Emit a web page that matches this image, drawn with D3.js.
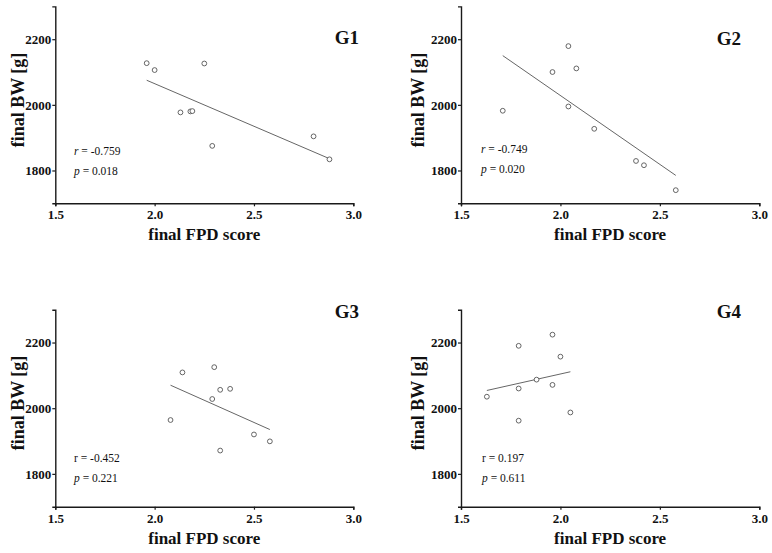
<!DOCTYPE html>
<html>
<head>
<meta charset="utf-8">
<script src="https://cdn.jsdelivr.net/npm/d3@7"></script>
<style>
  html, body { margin: 0; padding: 0; background: #fff; }
  svg { display: block; }
  text { font-family: "Liberation Serif", "Times New Roman", serif; fill: #111; }
</style>
</head>
<body>
<svg id="chart" width="772" height="553"></svg>
<script>
// ---------- data ----------
const groups = ["G1", "G2", "G3", "G4"];
const xTicks = [1.5, 2.0, 2.5, 3.0];
const yTicks = [1800, 2000, 2200];
const xDomain = [1.5, 3.0];
const yDomain = [1700, 2300];

const g1FPD = [1.96, 2.00, 2.25, 2.13, 2.18, 2.19, 2.29, 2.80, 2.88];
const g1BW  = [2127, 2106, 2126, 1977, 1980, 1981, 1875, 1904, 1834];
const g2FPD = [2.04, 1.96, 2.08, 1.71, 2.04, 2.17, 2.38, 2.42, 2.58];
const g2BW  = [2179, 2100, 2111, 1982, 1995, 1927, 1829, 1816, 1740];
const g3FPD = [2.14, 2.30, 2.33, 2.38, 2.29, 2.08, 2.50, 2.58, 2.33];
const g3BW  = [2109, 2125, 2056, 2059, 2028, 1964, 1920, 1899, 1871];
const g4FPD = [1.96, 1.79, 2.00, 1.88, 1.79, 1.96, 1.63, 2.05, 1.79];
const g4BW  = [2224, 2190, 2157, 2087, 2060, 2071, 2035, 1987, 1962];

// regression line end points [start, end]
const g1FitX = [1.96, 2.88], g1FitY = [2075, 1836];
const g2FitX = [1.71, 2.58], g2FitY = [2150, 1785];
const g3FitX = [2.08, 2.58], g3FitY = [2070, 1935];
const g4FitX = [1.63, 2.05], g4FitY = [2054, 2111];

const rLabels = ["-0.759", "-0.749", "-0.452", "0.197"];
const pLabels = ["0.018", "0.020", "0.221", "0.611"];
const rItalic = [true, true, false, false];

const xTitle = "final FPD score";
const yTitle = "final BW [g]";

// ---------- layout ----------
const layout = [
  { x0: 55.3, x1: 353.3, yb: 203.3, yt: 6.4,   gx: 359, gy: 44,  sx: 74,  sy: 155,   yTitleX: 24,  yTitleY: 100 },
  { x0: 461,  x1: 759.3, yb: 203.3, yt: 6.4,   gx: 741, gy: 45,  sx: 481, sy: 153,   yTitleX: 424, yTitleY: 100 },
  { x0: 55.3, x1: 353.3, yb: 506.7, yt: 309.7, gx: 359, gy: 318, sx: 74,  sy: 461.5, yTitleX: 24,  yTitleY: 403 },
  { x0: 461,  x1: 759.3, yb: 506.7, yt: 309.7, gx: 741, gy: 318, sx: 482, sy: 461.5, yTitleX: 424, yTitleY: 403 }
];

const series = [
  { fpd: g1FPD, bw: g1BW, fx: g1FitX, fy: g1FitY },
  { fpd: g2FPD, bw: g2BW, fx: g2FitX, fy: g2FitY },
  { fpd: g3FPD, bw: g3BW, fx: g3FitX, fy: g3FitY },
  { fpd: g4FPD, bw: g4BW, fx: g4FitX, fy: g4FitY }
];

const svg = d3.select("#chart");

groups.forEach((name, i) => {
  const L = layout[i];
  const S = series[i];
  const x = d3.scaleLinear().domain(xDomain).range([L.x0, L.x1]);
  const y = d3.scaleLinear().domain(yDomain).range([L.yb, L.yt]);
  const g = svg.append("g");

  // x axis
  const xa = g.append("g").attr("transform", `translate(0,${L.yb})`)
    .call(d3.axisBottom(x).tickValues(xTicks).tickFormat(d3.format(".1f")).tickSizeOuter(0).tickSize(3).tickPadding(3));
  // y axis
  const ya = g.append("g").attr("transform", `translate(${L.x0},0)`)
    .call(d3.axisLeft(y).tickValues(yTicks).tickFormat(d3.format("d")).tickSizeOuter(0).tickSize(3).tickPadding(1));

  [xa, ya].forEach(a => {
    a.select(".domain").attr("stroke", "#1a1a1a").attr("stroke-width", 1.4);
    a.selectAll(".tick line").attr("stroke", "#1a1a1a").attr("stroke-width", 1.2);
    a.selectAll(".tick text")
      .attr("font-family", "Liberation Serif, serif")
      .attr("font-weight", "bold")
      .attr("font-size", 13)
      .attr("fill", "#111");
  });
  xa.selectAll(".tick text").attr("dy", "0.78em");

  // axis titles
  g.append("text")
    .attr("x", (L.x0 + L.x1) / 2)
    .attr("y", L.yb + 37)
    .attr("text-anchor", "middle")
    .attr("font-weight", "bold")
    .attr("font-size", 17)
    .text(xTitle);

  g.append("text")
    .attr("transform", `translate(${L.yTitleX},${L.yTitleY}) rotate(-90)`)
    .attr("text-anchor", "middle")
    .attr("font-weight", "bold")
    .attr("font-size", 18)
    .text(yTitle);

  // group label
  g.append("text")
    .attr("x", L.gx)
    .attr("y", L.gy)
    .attr("text-anchor", "end")
    .attr("font-weight", "bold")
    .attr("font-size", 19)
    .text(name);

  // regression line
  g.append("line")
    .attr("x1", x(S.fx[0])).attr("y1", y(S.fy[0]))
    .attr("x2", x(S.fx[1])).attr("y2", y(S.fy[1]))
    .attr("stroke", "#666")
    .attr("stroke-width", 1);

  // points
  g.selectAll("circle.pt")
    .data(d3.range(S.fpd.length))
    .join("circle")
    .attr("class", "pt")
    .attr("cx", k => x(S.fpd[k]))
    .attr("cy", k => y(S.bw[k]))
    .attr("r", 2.4)
    .attr("fill", "#fff")
    .attr("stroke", "#555")
    .attr("stroke-width", 0.9);

  // stats text
  const t1 = g.append("text")
    .attr("x", L.sx).attr("y", L.sy)
    .attr("font-size", 11.5);
  t1.append("tspan").attr("font-style", rItalic[i] ? "italic" : "normal").text("r");
  t1.append("tspan").text(" = " + rLabels[i]);

  const t2 = g.append("text")
    .attr("x", L.sx).attr("y", L.sy + 20)
    .attr("font-size", 11.5);
  t2.append("tspan").attr("font-style", "italic").text("p");
  t2.append("tspan").text(" = " + pLabels[i]);
});
</script>
</body>
</html>
